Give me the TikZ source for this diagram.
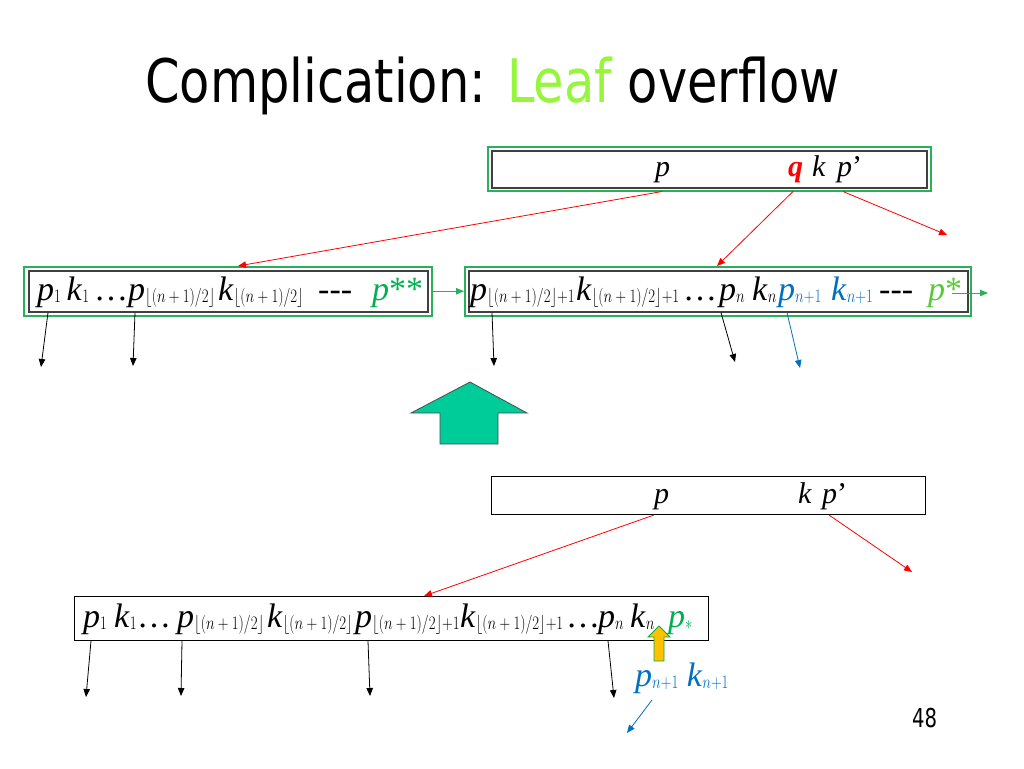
\RequirePackage{fix-cm}
\documentclass[tikz,border=0pt]{standalone}
\usepackage{fontspec}
\setmainfont{Liberation Serif}
\newfontfamily\titlefont{DejaVu Sans}
\usetikzlibrary{arrows.meta}
\definecolor{boxgreen}{RGB}{40,176,90}
\definecolor{pgreen}{RGB}{0,176,80}
\definecolor{lightgreen}{RGB}{90,200,60}
\definecolor{leafgreen}{RGB}{150,245,60}
\definecolor{nblue}{RGB}{0,112,192}
\definecolor{bigarrow}{RGB}{0,204,153}
\definecolor{orangefill}{RGB}{255,192,0}
\newcommand{\ip}{\textit{p}}
\newcommand{\ik}{\textit{k}}
\newcommand{\sub}[1]{\raisebox{-0.08em}{\scalebox{0.78}[1]{\fontsize{19}{19}\selectfont$#1$}}}
\newcommand{\fl}{\lfloor(n+1)/2\rfloor}
\newcommand{\dsh}{-{}-{}-}
\tikzset{
  txt/.style={anchor=base west, inner sep=0pt, font=\fontsize{34}{36}\selectfont},
  toptxt/.style={anchor=base west, inner sep=0pt, font=\fontsize{30}{32}\selectfont},
  outerbox/.style={draw=boxgreen, line width=1.5pt, anchor=north west, inner sep=0pt},
  innerbox/.style={draw=black!75, line width=1.6pt, anchor=north west, inner sep=0pt},
  plainbox/.style={draw=black, line width=1pt, anchor=north west, inner sep=0pt},
  arr/.style={-{Triangle[length=8pt,width=6.5pt]}, line width=0.8pt},
}
\begin{document}
\begin{tikzpicture}[x=1pt,y=-1pt]
\useasboundingbox[fill=white] (0,0) rectangle (1024,768);
% title
\node[anchor=base west, inner sep=0pt] (title) at (145,102)
  {\resizebox{695pt}{\height}{\titlefont\fontsize{60}{62}\selectfont Complication: \textcolor{leafgreen}{Leaf} overflow}};
% page number
\node[anchor=base west, inner sep=0pt] (pg) at (912,727)
  {\resizebox{25pt}{\height}{\titlefont\fontsize{26}{28}\selectfont 48}};

% top box
\node[outerbox, minimum width=443pt, minimum height=44pt] (topO) at (487,146) {};
\node[innerbox, minimum width=435pt, minimum height=37pt] (topI) at (491,150) {};
\node[toptxt] (tp) at (655,176) {\ip};
\node[toptxt, text=red] (tq) at (788,176) {\textbf{\textit{q}}};
\node[toptxt] (tk) at (812,176) {\ik};
\node[toptxt] (tpp) at (837,176) {\ip’};

% left leaf
\node[outerbox, minimum width=408pt, minimum height=49pt] (leftO) at (23,266) {};
\node[innerbox, minimum width=399pt, minimum height=41pt] (leftI) at (28,270) {};
\node[txt] (l1) at (37,300) {\ip\sub{1}\,\ik\sub{1}};
\node[txt] (l2) at (94,300) {\dots};
\node[txt] (l3) at (128,300) {\ip\sub{\fl}};
\node[txt] (l4) at (218,300) {\ik\sub{\fl}};
\node[txt] (l5) at (318,300) {\dsh};
\node[txt, text=pgreen] (l6) at (372,300) {\ip**};

% right leaf
\node[outerbox, minimum width=506pt, minimum height=49pt] (rightO) at (464,266) {};
\node[innerbox, minimum width=499pt, minimum height=41pt] (rightI) at (468,270) {};
\node[txt] (r1) at (470,300) {\ip\sub{\fl{+}1}};
\node[txt] (r2) at (576,300) {\ik\sub{\fl{+}1}};
\node[txt] (r3) at (683,300) {\dots};
\node[txt] (r4) at (719,300) {\ip\sub{n}};
\node[txt] (r5) at (752,300) {\ik\sub{n}};
\node[txt, text=nblue] (r6) at (778,300) {\ip\sub{n{+}1}};
\node[txt, text=nblue] (r7) at (831,300) {\ik\sub{n{+}1}};
\node[txt] (r8) at (879,300) {\dsh};
\node[txt, text=lightgreen] (r9) at (928,300) {\ip*};

% arrows from top box
\coordinate (topR) at (947,235);
\draw[arr, red] ([xshift=175pt]topO.south west) -- ([xshift=215pt]leftO.north west);
\draw[arr, red] ([xshift=306pt]topO.south west) -- ([xshift=253pt]rightO.north west);
\draw[arr, red] ([xshift=356pt]topO.south west) -- (topR);

% leaf link arrows
\draw[arr, boxgreen] (leftO.east) -- (rightO.west);
\coordinate (pstarS) at (952,293);
\coordinate (pstarE) at (988,293);
\draw[arr, boxgreen] (pstarS) -- (pstarE);

% child pointers upper leaves
\coordinate (c1) at (41,367);
\coordinate (c2) at (133,366);
\coordinate (c3) at (494,366);
\coordinate (c4) at (735,362);
\coordinate (c5) at (800,368);
\draw[arr] ([xshift=20pt]leftI.south west) -- (c1);
\draw[arr] ([xshift=107pt]leftI.south west) -- (c2);
\draw[arr] ([xshift=24pt]rightI.south west) -- (c3);
\draw[arr] ([xshift=253pt]rightI.south west) -- (c4);
\draw[arr, nblue] ([xshift=319pt]rightI.south west) -- (c5);

% big green arrow
\filldraw[fill=bigarrow, draw=black!70, line width=0.8pt]
  (470,382) -- (527,413) -- (498,413) -- (498,444) -- (440,444) -- (440,413) -- (411,413) -- cycle;

% lower parent
\node[plainbox, minimum width=434pt, minimum height=38pt] (bU) at (491,476) {};
\node[toptxt] (bp) at (654,503) {\ip};
\node[toptxt] (bk) at (798,503) {\ik};
\node[toptxt] (bpp) at (822,503) {\ip’};

% lower big leaf
\node[plainbox, minimum width=634pt, minimum height=44pt] (bB) at (74,596) {};
\node[txt] (b1) at (83,627) {\ip\sub{1}};
\node[txt] (b2) at (114,627) {\ik\sub{1}};
\node[txt] (b3) at (137,627) {\dots};
\node[txt] (b4) at (177,627) {\ip\sub{\fl}};
\node[txt] (b5) at (267,627) {\ik\sub{\fl}};
\node[txt] (b6) at (355,627) {\ip\sub{\fl{+}1}};
\node[txt] (b7) at (460,627) {\ik\sub{\fl{+}1}};
\node[txt] (b8) at (566,627) {\dots};
\node[txt] (b9) at (598,627) {\ip\sub{n}};
\node[txt] (b10) at (630,627) {\ik\sub{n}};
\node[txt, text=pgreen] (b11) at (668,627) {\ip\sub{\ast}};

\coordinate (bR) at (912,572);
\draw[arr, red] ([xshift=163pt]bU.south west) -- ([xshift=350pt]bB.north west);
\draw[arr, red] ([xshift=338pt]bU.south west) -- (bR);

\coordinate (d1) at (86,697);
\coordinate (d2) at (181,696);
\coordinate (d3) at (370,696);
\coordinate (d4) at (614,698);
\draw[arr] ([xshift=17pt]bB.south west) -- (d1);
\draw[arr] ([xshift=108pt]bB.south west) -- (d2);
\draw[arr] ([xshift=294pt]bB.south west) -- (d3);
\draw[arr] ([xshift=534pt]bB.south west) -- (d4);

% orange insertion arrow
\filldraw[fill=orangefill, draw=pgreen, line width=0.8pt]
  (659,626) -- (670,637) -- (664,637) -- (664,661) -- (654,661) -- (654,637) -- (648,637) -- cycle;

% new entry
\node[txt, text=nblue] (newpk) at (635,686) {\ip\sub{n{+}1}\ \ik\sub{n{+}1}};
\coordinate (nS) at (652,700);
\coordinate (nE) at (627,733);
\draw[arr, nblue] (nS) -- (nE);
\end{tikzpicture}
\end{document}
